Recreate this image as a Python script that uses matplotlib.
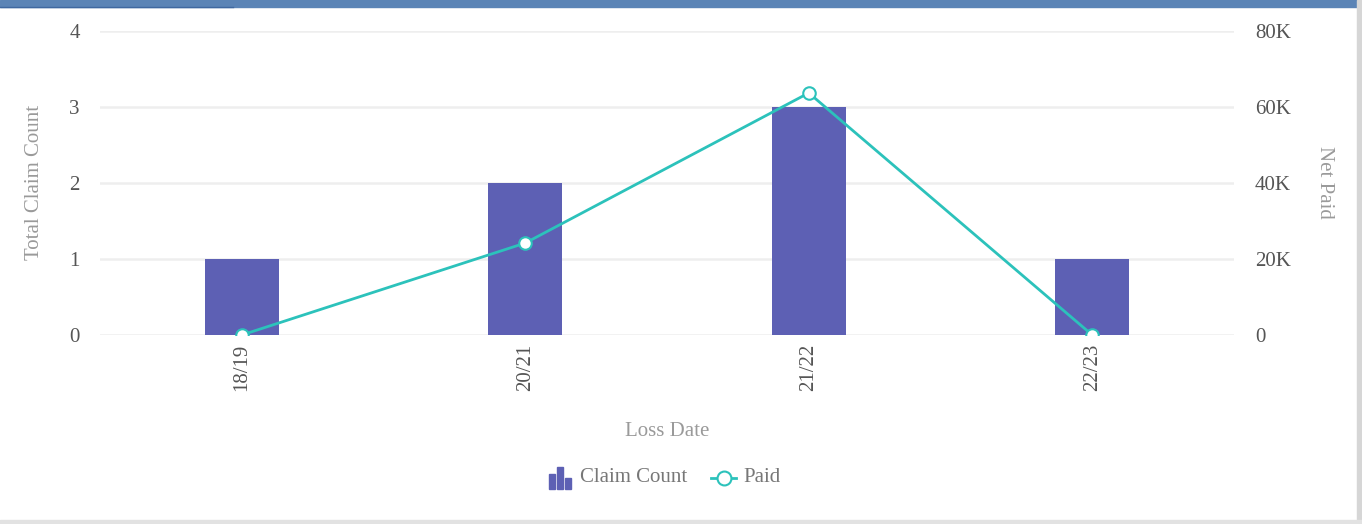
import matplotlib
matplotlib.use('Agg')
import matplotlib.pyplot as plt
from matplotlib.patches import Rectangle
from matplotlib.lines import Line2D
from matplotlib.ticker import FuncFormatter

plt.rcParams.update({'font.family': 'Liberation Serif', 'font.size': 13})

# data
categories = ['18/19', '20/21', '21/22', '22/23']
claim_count = [1, 2, 3, 1]
net_paid = [0, 24200, 63700, 0]

BAR_C = '#5d60b4'
LINE_C = '#2cc2bb'
TICK_C = '#555555'
TITLE_C = '#9a9a9a'
GRID_C = '#eeeeee'
FS = 15

W, H = 1362, 524
fig = plt.figure(figsize=(W / 100, H / 100), dpi=100)
ax = fig.add_axes([100 / W, 1 - 335 / H, 1134 / W, 304 / H])
ax2 = ax.twinx()

x = range(len(categories))
ax.bar(x, claim_count, width=0.26, color=BAR_C, zorder=2)
ax.set_xlim(-0.5, len(categories) - 0.5)
ax.set_ylim(0, 4)
ax.set_yticks([0, 1, 2, 3, 4])
ax.grid(axis='y', color=GRID_C, lw=1.8, zorder=0)
ax.set_axisbelow(True)

ax2.plot(x, net_paid, color=LINE_C, lw=2, marker='o', ms=9,
         mfc='white', mec=LINE_C, mew=1.5, zorder=5)
ax2.set_ylim(0, 80000)
ax2.set_yticks([0, 20000, 40000, 60000, 80000])
ax2.yaxis.set_major_formatter(FuncFormatter(lambda v, p: '0' if v == 0 else f'{int(v / 1000)}K'))

for a in (ax, ax2):
    for s in a.spines.values():
        s.set_visible(False)
    a.tick_params(length=0, colors=TICK_C, labelsize=FS)

ax.tick_params(axis='y', pad=14.5)
ax2.tick_params(axis='y', pad=15)
ax.set_xticks(list(x))
ax.set_xticklabels(categories, rotation=90)
ax.tick_params(axis='x', pad=6)

# axis titles
fig.text(35 / W, 1 - 182 / H, 'Total Claim Count', color=TITLE_C, fontsize=FS,
         rotation=90, ha='center', va='center')
fig.text(1325 / W, 1 - 182 / H, 'Net Paid', color=TITLE_C, fontsize=FS,
         rotation=270, ha='center', va='center')
fig.text(667 / W, 1 - 431 / H, 'Loss Date', color=TITLE_C, fontsize=FS,
         ha='center', va='center')

# legend
for bx, bh in [(549, 15), (557, 22), (565, 11)]:
    fig.patches.append(Rectangle((bx / W, 1 - 489 / H), 6 / W, bh / H,
                                 transform=fig.transFigure, color=BAR_C))
fig.text(580 / W, 1 - 478 / H, 'Claim Count', color='#777777', fontsize=FS, va='center')
fig.lines.append(Line2D([711 / W, 736 / W], [1 - 478 / H, 1 - 478 / H],
                        transform=fig.transFigure, color=LINE_C, lw=2))
fig.lines.append(Line2D([723.5 / W], [1 - 478 / H], transform=fig.transFigure,
                        marker='o', ms=10, mfc='white', mec=LINE_C, mew=1.5))
fig.text(743 / W, 1 - 478 / H, 'Paid', color='#777777', fontsize=FS, va='center')

# frame decorations
fig.patches.append(Rectangle((0, 1 - 7 / H), 1, 7 / H, transform=fig.transFigure,
                             color='#5b84b6', zorder=0))
fig.lines.append(Line2D([0, 233 / W], [1 - 7 / H, 1 - 7 / H], transform=fig.transFigure,
                        color='#3f68a0', lw=1))
fig.patches.append(Rectangle((1357 / W, 0), 5 / W, 1, transform=fig.transFigure,
                             color='#d6d6d6', zorder=0))
fig.patches.append(Rectangle((0, 0), 1, 4 / H, transform=fig.transFigure,
                             color='#e2e2e2', zorder=0))

fig.savefig('out.png', dpi=100)
